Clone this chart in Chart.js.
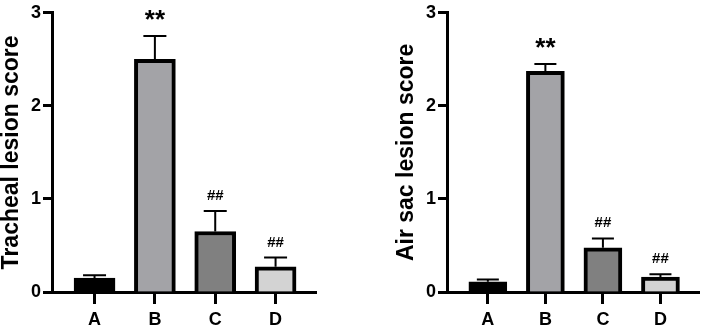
<!DOCTYPE html>
<html>
<head>
<meta charset="utf-8">
<script src="https://cdn.jsdelivr.net/npm/chart.js@4/dist/chart.umd.min.js"></script>
<style>
  html, body { margin: 0; padding: 0; background: #fff; }
  #wrap { position: relative; width: 702px; height: 328px; }
  canvas { position: absolute; top: 0; }
</style>
</head>
<body>
<div id="wrap">
  <canvas id="tracheal" width="351" height="328" style="left:0"></canvas>
  <canvas id="airsac" width="351" height="328" style="left:351px"></canvas>
</div>
<script>
const categories = ['A', 'B', 'C', 'D']
const barColors = ['#000000', '#a3a3a7', '#808080', '#d3d3d3']

const trachealMeans = [0.15, 2.5, 0.65, 0.27]
const trachealErrors = [0.03, 0.25, 0.22, 0.1]
const trachealMarks = ['', '**', '##', '##']

const airSacMeans = [0.11, 2.37, 0.475, 0.16]
const airSacErrors = [0.025, 0.08, 0.1, 0.03]
const airSacMarks = ['', '**', '##', '##']

const yTicks = [0, 1, 2, 3]

const FONT = "'Liberation Sans', Arial, sans-serif"

// one-sided SEM bars plus significance marks above them
const errorBars = {
  id: 'errorBars',
  afterDatasetsDraw(chart, args, opts) {
    const { ctx, scales: { y } } = chart
    const meta = chart.getDatasetMeta(0)
    ctx.save()
    ctx.strokeStyle = '#000'
    ctx.fillStyle = '#000'
    ctx.lineWidth = 2
    ctx.textAlign = 'center'
    ctx.textBaseline = 'alphabetic'
    meta.data.forEach((bar, i) => {
      const top = y.getPixelForValue(opts.means[i] + opts.errors[i])
      ctx.beginPath()
      ctx.moveTo(bar.x, bar.y)
      ctx.lineTo(bar.x, top)
      ctx.moveTo(bar.x - opts.cap / 2, top)
      ctx.lineTo(bar.x + opts.cap / 2, top)
      ctx.stroke()

      const mark = opts.marks[i]
      if (!mark) return
      if (mark.startsWith('*')) {
        ctx.font = `bold 26px ${FONT}`
        ctx.fillText(mark, bar.x, top - 8)
      } else {
        ctx.font = `bold 15px ${FONT}`
        ctx.fillText(mark, bar.x, top - 11)
      }
    })
    ctx.restore()
  }
}

const makeChart = (id, cfg) => {
  const ctx = document.getElementById(id).getContext('2d')
  return new Chart(ctx, {
    type: 'bar',
    data: {
      datasets: [{
        data: cfg.means.map((v, i) => ({ x: i, y: v })),
        backgroundColor: barColors,
        borderColor: '#000',
        borderWidth: 4,
        barThickness: cfg.barWidth
      }]
    },
    options: {
      responsive: false,
      animation: false,
      devicePixelRatio: 1,
      layout: {
        padding: { top: 9.5, left: cfg.padLeft, right: cfg.padRight, bottom: 0 }
      },
      scales: {
        x: {
          type: 'linear',
          offset: false,
          min: cfg.xMin,
          max: cfg.xMax,
          afterBuildTicks: scale => {
            scale.ticks = categories.map((c, i) => ({ value: i }))
          },
          afterFit: scale => { scale.height = 36 },
          grid: {
            display: true,
            offset: false,
            drawOnChartArea: false,
            drawTicks: true,
            tickLength: 12,
            tickWidth: 3,
            tickColor: '#000'
          },
          border: { display: true, width: 3, color: '#000' },
          ticks: {
            color: '#000',
            padding: 5,
            maxRotation: 0,
            font: { family: FONT, size: 18, weight: 'bold' },
            callback: v => categories[v] ?? ''
          }
        },
        y: {
          min: 0,
          max: 3,
          afterBuildTicks: scale => {
            scale.ticks = yTicks.map(v => ({ value: v }))
          },
          afterFit: scale => { scale.width = 52 },
          grid: {
            display: true,
            drawOnChartArea: false,
            drawTicks: true,
            tickLength: 9,
            tickWidth: 3,
            tickColor: '#000'
          },
          border: { display: true, width: 3, color: '#000' },
          ticks: {
            color: '#000',
            padding: 2,
            font: { family: FONT, size: 18, weight: 'bold' }
          },
          title: {
            display: true,
            text: cfg.title,
            color: '#000',
            padding: 0,
            font: { family: FONT, size: 23, weight: 'bold', lineHeight: 1.0 }
          }
        }
      },
      plugins: {
        legend: { display: false },
        tooltip: { enabled: false },
        errorBars: {
          means: cfg.means,
          errors: cfg.errors,
          marks: cfg.marks,
          cap: cfg.cap
        }
      }
    },
    plugins: [errorBars]
  })
}

makeChart('tracheal', {
  title: 'Tracheal lesion score',
  means: trachealMeans,
  errors: trachealErrors,
  marks: trachealMarks,
  padLeft: 0,
  padRight: 35,
  xMin: -0.705,
  xMax: 3.67,
  barWidth: 41,
  cap: 23
})

makeChart('airsac', {
  title: 'Air sac lesion score',
  means: airSacMeans,
  errors: airSacErrors,
  marks: airSacMarks,
  padLeft: 44,
  padRight: 3,
  xMin: -0.71,
  xMax: 3.67,
  barWidth: 38,
  cap: 22
})
</script>
</body>
</html>
